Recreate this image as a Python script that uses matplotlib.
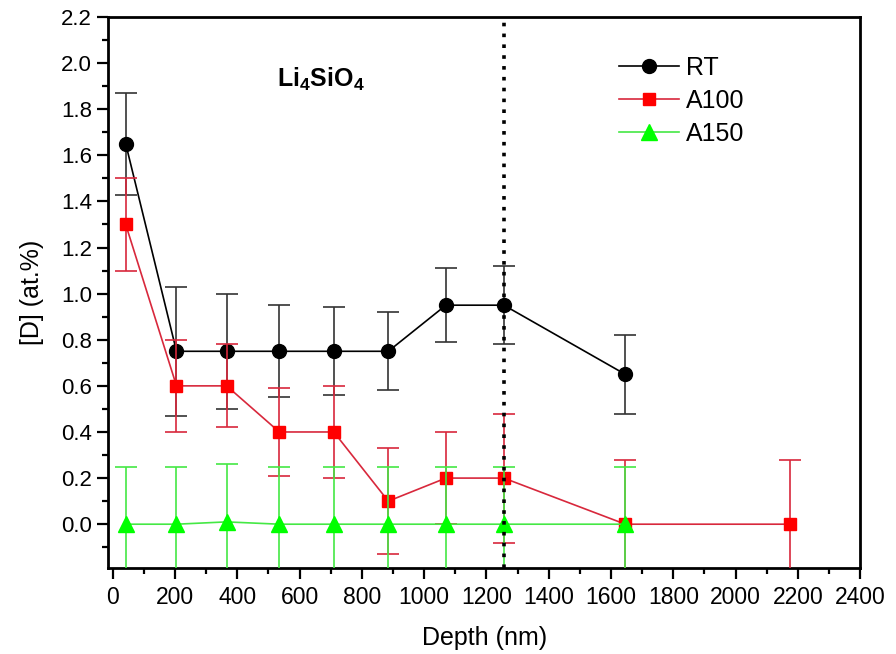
import matplotlib
matplotlib.use("Agg")
import matplotlib.pyplot as plt
from matplotlib.ticker import MultipleLocator
from matplotlib.lines import Line2D
import numpy as np

plt.rcParams['font.family'] = ['Liberation Sans', 'DejaVu Sans']
plt.rcParams['mathtext.fontset'] = 'custom'
plt.rcParams['mathtext.rm'] = 'Liberation Sans'
plt.rcParams['mathtext.bf'] = 'Liberation Sans:bold'

# RT
rt_x = [42, 205, 366, 535, 710, 885, 1070, 1256, 1646]
rt_y = [1.65, 0.75, 0.75, 0.75, 0.75, 0.75, 0.95, 0.95, 0.65]
rt_err = [0.22, 0.28, 0.25, 0.20, 0.19, 0.17, 0.16, 0.17, 0.17]

# A100
a100_x = [42, 205, 366, 535, 710, 885, 1070, 1256, 1646, 2176]
a100_y = [1.30, 0.60, 0.60, 0.40, 0.40, 0.10, 0.20, 0.20, 0.00, 0.00]
a100_err = [0.20, 0.20, 0.18, 0.19, 0.20, 0.23, 0.20, 0.28, 0.28, 0.28]

# A150
a150_x = [42, 205, 366, 535, 710, 885, 1070, 1256, 1646]
a150_y = [0.00, 0.00, 0.01, 0.00, 0.00, 0.00, 0.00, 0.00, 0.00]
a150_err = [0.25, 0.25, 0.25, 0.25, 0.25, 0.25, 0.25, 0.25, 0.25]

marker_line = 1256

fig = plt.figure(figsize=(8.96, 6.54), dpi=100)
ax = fig.add_axes([0.1205, 0.1315, 0.8395, 0.8425])

series = [
    (rt_x, rt_y, rt_err, 'RT', 'black', '#333333', 'black', 'o', 10),
    (a100_x, a100_y, a100_err, 'A100', '#d8283c', '#d8283c', '#ff0000', 's', 9),
    (a150_x, a150_y, a150_err, 'A150', '#44e844', '#44e844', '#00ff00', '^', 11),
]
handles = []
for i, (x, y, e, lab, lc, ec, mc, mk, ms) in enumerate(series):
    ax.errorbar(x, y, yerr=e, color=lc, ecolor=ec, lw=1.2, elinewidth=1.2,
                capsize=8, capthick=1.2, marker=mk, ms=ms, mfc=mc, mec=mc,
                zorder=3 + i)
    handles.append(Line2D([], [], color=lc, lw=1.2, marker=mk, ms=ms,
                          mfc=mc, mec=mc, label=lab))

ax.axvline(marker_line, color='black', ls=(0, (1, 2)), lw=2.6, zorder=6)

ax.text(668, 1.93, r'$\mathbf{Li_4SiO_4}$', fontsize=18, ha='center', va='center')

ax.set_xlim(-15, 2400)
ax.set_ylim(-0.19, 2.2)
ax.xaxis.set_major_locator(MultipleLocator(200))
ax.xaxis.set_minor_locator(MultipleLocator(100))
ax.yaxis.set_minor_locator(MultipleLocator(0.1))
ax.set_yticks(np.arange(0, 2.21, 0.2))
ax.set_yticklabels(['%.1f' % v for v in np.arange(0, 2.21, 0.2)])

ax.tick_params(which='both', direction='out', width=1.6, top=False, right=False)
ax.tick_params(axis='x', labelsize=16.5, pad=5)
ax.tick_params(axis='y', labelsize=16)
ax.tick_params(which='major', length=8)
ax.tick_params(which='minor', length=4)
for s in ax.spines.values():
    s.set_linewidth(2)

ax.set_xlabel('Depth (nm)', fontsize=18, labelpad=12)
ax.set_ylabel('[D] (at.%)', fontsize=18, labelpad=12)

ax.legend(handles=handles, loc='upper left', bbox_to_anchor=(0.649, 0.97),
          fontsize=18, frameon=False, handlelength=2.4, labelspacing=0.35,
          handletextpad=0.3)

fig.savefig('out.png', dpi=100)
